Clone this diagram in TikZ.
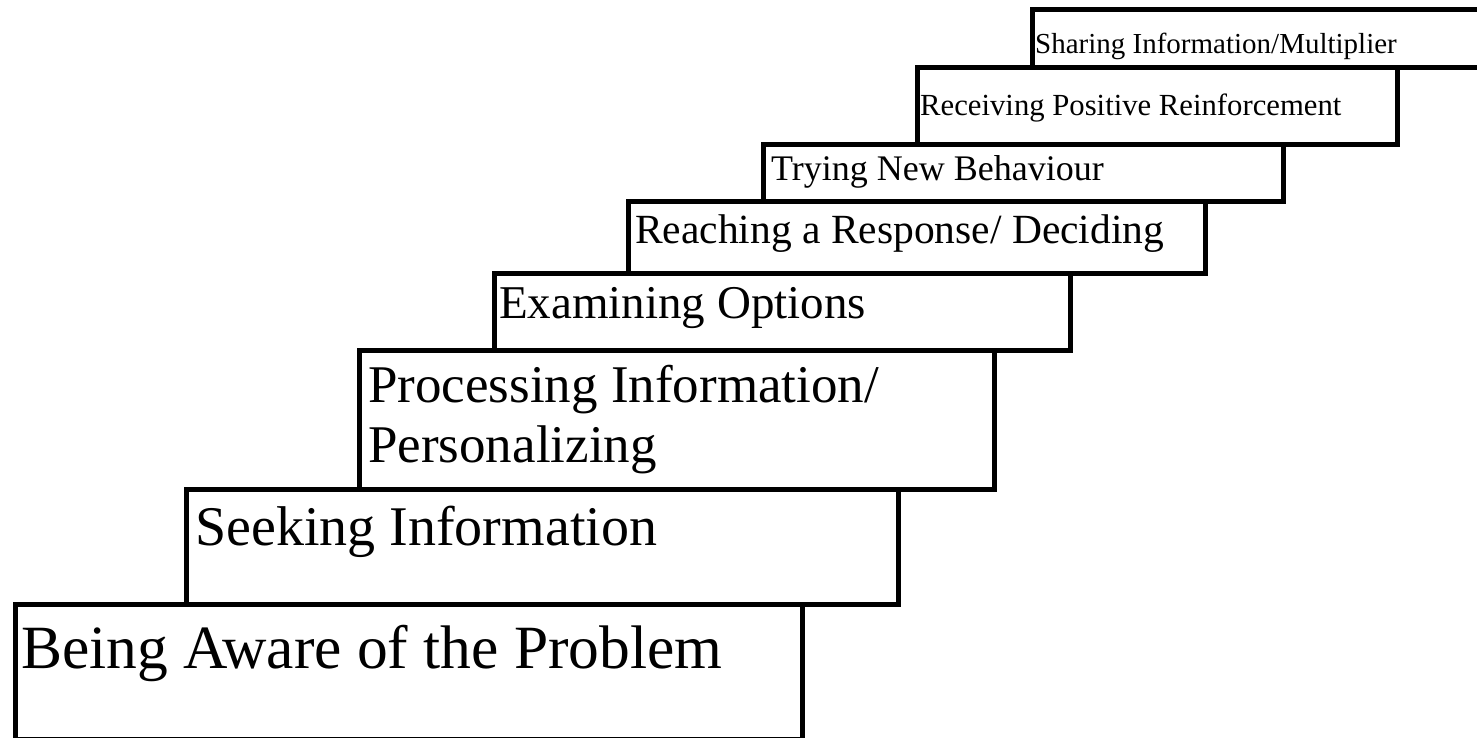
\documentclass[tikz,border=0pt]{standalone}
\usepackage{fontspec}
\setmainfont{Liberation Serif}
\usepackage{tikz}
\usetikzlibrary{positioning}

\tikzset{
  stepbox/.style={draw=black, line width=5pt, line join=miter},
  steptext/.style={anchor=base west, inner sep=0pt, text=black}
}
\newcommand{\fs}[1]{\fontsize{#1}{#1}\selectfont}

\begin{document}
\begin{tikzpicture}[x=1pt, y=-1pt]
\useasboundingbox (0,0) rectangle (1477,737);
\clip (0,0) rectangle (1477,737);

% corners of the steps
\coordinate (a1) at (15, 604);   \coordinate (b1) at (802, 739);
\coordinate (a2) at (186, 489);  \coordinate (b2) at (898, 604);
\coordinate (a3) at (359, 350);  \coordinate (b3) at (994, 489);
\coordinate (a4) at (494, 273);  \coordinate (b4) at (1070, 350);
\coordinate (a5) at (628, 201);  \coordinate (b5) at (1205, 273);
\coordinate (a6) at (763, 144);  \coordinate (b6) at (1283, 201);
\coordinate (a7) at (917, 67);   \coordinate (b7) at (1397, 144);
\coordinate (a8) at (1032, 9);   \coordinate (b8) at (1490, 67);

\draw[stepbox] (a1) rectangle (b1);
\draw[stepbox] (a2) rectangle (b2);
\draw[stepbox] (a3) rectangle (b3);
\draw[stepbox] (a4) rectangle (b4);
\draw[stepbox] (a5) rectangle (b5);
\draw[stepbox] (a6) rectangle (b6);
\draw[stepbox] (a7) rectangle (b7);
\draw[stepbox] (a8) rectangle (b8);

% labels
\node[steptext, font=\fs{61.5}] (aware) at (21, 668) {Being Aware of the Problem};
\node[steptext, font=\fs{56}] (seek) at (195, 545) {Seeking Information};
\node[steptext, font=\fs{53}] (proc) at (368, 402) {Processing Information/};
\node[steptext, font=\fs{53}] (pers) at ([yshift=-60pt]proc.base west) {Personalizing};
\node[steptext, font=\fs{47}] (exam) at (499, 318) {Examining Options};
\node[steptext, font=\fs{41.5}] (reach) at (635, 243) {Reaching a Response/ Deciding};
\node[steptext, font=\fs{36}] (try) at (771, 180) {Trying New Behaviour};
\node[steptext, font=\fs{30.7}] (recv) at (920, 115) {Receiving Positive Reinforcement};
\node[steptext, font=\fs{29}] (share) at (1035, 53) {Sharing Information/Multiplier};
\end{tikzpicture}
\end{document}
